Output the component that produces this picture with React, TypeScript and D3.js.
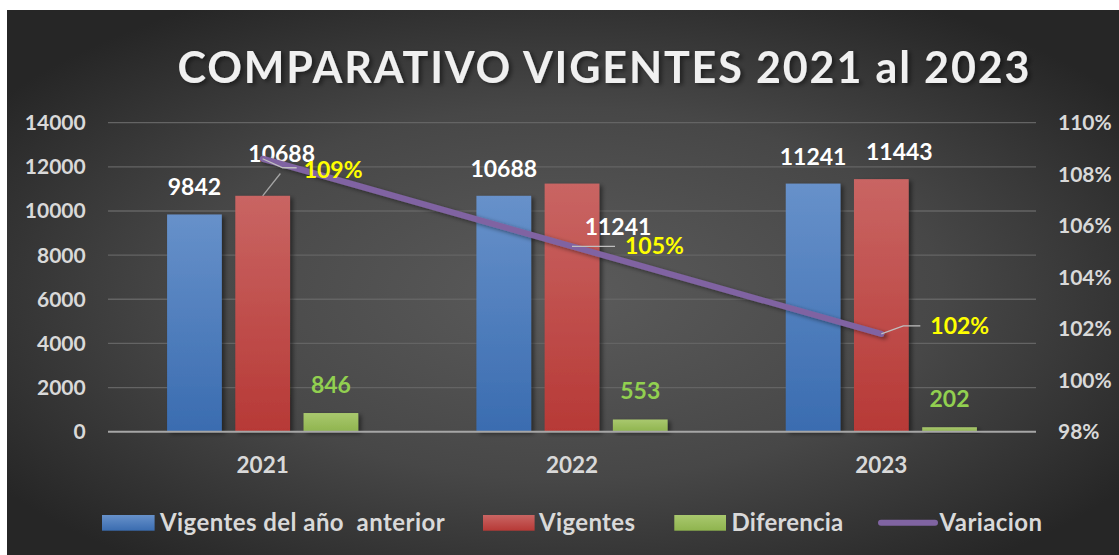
import * as d3 from 'd3';

const years = ['2021', '2022', '2023'];
const anterior = [9842, 10688, 11241];
const vigentes = [10688, 11241, 11443];
const diferencia = [846, 553, 202];
const variacion = [1.086, 1.052, 1.018];
const variacionLabels = ['109%', '105%', '102%'];
const leftTicks = [0, 2000, 4000, 6000, 8000, 10000, 12000, 14000];
const rightTicks = [0.98, 1.0, 1.02, 1.04, 1.06, 1.08, 1.1];
const seriesNames = ['Vigentes del año  anterior', 'Vigentes', 'Diferencia', 'Variacion'];

const W = 1119;
const H = 555;
const FONT = 'Lato, "Open Sans", sans-serif';

export default function App() {
	const x = d3.scaleBand<string>().domain(years).range([108, 1036]).padding(0);
	const groupW = x.bandwidth() * 0.618;
	const xs = d3
		.scaleBand<string>()
		.domain(['anterior', 'vigentes', 'diferencia'])
		.range([0, groupW])
		.paddingInner(0.198);
	const y = d3.scaleLinear().domain([0, 14000]).range([431.7, 122.7]);
	const yR = d3.scaleLinear().domain([0.98, 1.1]).range([431.7, 122.7]);

	const cx = (yr: string) => x(yr)! + x.bandwidth() / 2;
	const barX = (yr: string, key: string) => cx(yr) - groupW / 2 + xs(key)!;

	const series = [
		{ key: 'anterior', values: anterior, fill: 'url(#gBlue)' },
		{ key: 'vigentes', values: vigentes, fill: 'url(#gRed)' },
		{ key: 'diferencia', values: diferencia, fill: 'url(#gGreen)' },
	];

	// manual label tweaks (Excel labels dragged by hand)
	const vigOffsets = [
		{ dx: 19, dy: -34, leader: true },
		{ dx: 46, dy: 51.4, leader: false },
		{ dx: 18, dy: -19, leader: false },
	];
	const varOffsets = [
		{ dx: 41, dy: 19, leader: [[0, 0], [20, 9], [34, 9]] },
		{ dx: 53, dy: 8, leader: [[0, 0], [43, 0]] },
		{ dx: 49, dy: 0, leader: [[0, 0], [22, -8], [39, -8]] },
	];

	const line = d3
		.line<number>()
		.x((_, i) => cx(years[i]))
		.y((d) => yR(d));

	const bw = xs.bandwidth();

	return (
		<svg width={W} height={H} style={{ position: 'absolute', left: 0, top: 0 }} fontFamily={FONT}>
			<defs>
				<radialGradient id="bg" cx="50%" cy="52%" r="62%">
					<stop offset="0%" stopColor="#5b5b5b" />
					<stop offset="55%" stopColor="#474747" />
					<stop offset="100%" stopColor="#262626" />
				</radialGradient>
				<linearGradient id="gBlue" x1="0" y1="0" x2="0" y2="1">
					<stop offset="0%" stopColor="#6791ca" />
					<stop offset="100%" stopColor="#3a6cb0" />
				</linearGradient>
				<linearGradient id="gRed" x1="0" y1="0" x2="0" y2="1">
					<stop offset="0%" stopColor="#c96563" />
					<stop offset="100%" stopColor="#b73936" />
				</linearGradient>
				<linearGradient id="gGreen" x1="0" y1="0" x2="0" y2="1">
					<stop offset="0%" stopColor="#a9c86e" />
					<stop offset="100%" stopColor="#8fb44e" />
				</linearGradient>
				<filter id="shadow" x="-20%" y="-20%" width="150%" height="150%">
					<feDropShadow dx="3" dy="2" stdDeviation="2" floodColor="#000" floodOpacity="0.45" />
				</filter>
			</defs>

			<rect x={7} y={10} width={W - 7} height={H - 10} fill="url(#bg)" />

			{/* Title */}
			<text
				x={177.5}
				y={82.7}
				fontSize={43}
				fontWeight={700}
				fill="#f0f0f0"
				textLength={852}
				lengthAdjust="spacing"
				filter="url(#shadow)"
			>
				COMPARATIVO VIGENTES 2021 al 2023
			</text>

			{/* Gridlines */}
			{leftTicks.slice(1).map((t) => (
				<line key={t} x1={108} x2={1036} y1={y(t)} y2={y(t)} stroke="#646464" strokeWidth={1.3} />
			))}

			{/* Left axis */}
			{leftTicks.map((t) => (
				<text key={t} x={85.7} y={y(t) + 7.5} textAnchor="end" fontSize={21} fontWeight={700} fill="#d9d9d9">
					{t}
				</text>
			))}

			{/* Right axis */}
			{rightTicks.map((t) => (
				<text key={t} x={1058} y={yR(t) + 7.5} fontSize={21} fontWeight={700} fill="#d9d9d9">
					{d3.format('.0%')(t)}
				</text>
			))}

			{/* Bars */}
			{series.map((s) =>
				years.map((yr, i) => (
					<rect
						key={s.key + yr}
						x={barX(yr, s.key)}
						y={y(s.values[i])}
						width={bw}
						height={y(0) - y(s.values[i])}
						fill={s.fill}
						filter="url(#shadow)"
					/>
				))
			)}

			{/* Baseline */}
			<line x1={108} x2={1036} y1={y(0)} y2={y(0)} stroke="#a6a6a6" strokeWidth={2} />

			{/* X labels */}
			{years.map((yr) => (
				<text key={yr} x={cx(yr)} y={473.3} textAnchor="middle" fontSize={22.5} fontWeight={700} fill="#d9d9d9">
					{yr}
				</text>
			))}

			{/* Bar labels */}
			{years.map((yr, i) => {
				const bx = barX(yr, 'anterior') + bw / 2;
				return (
					<text key={'la' + yr} x={bx} y={y(anterior[i]) - 19} textAnchor="middle" fontSize={23} fontWeight={700} fill="#ffffff">
						{anterior[i]}
					</text>
				);
			})}
			{years.map((yr, i) => {
				const bx = barX(yr, 'vigentes') + bw / 2;
				const top = y(vigentes[i]);
				const o = vigOffsets[i];
				return (
					<g key={'lv' + yr}>
						{o.leader && (
							<line x1={bx} y1={top} x2={bx + 17.7} y2={top - 22.3} stroke="#a6a6a6" strokeWidth={1.3} />
						)}
						<text x={bx + o.dx} y={top + o.dy} textAnchor="middle" fontSize={23} fontWeight={700} fill="#ffffff">
							{vigentes[i]}
						</text>
					</g>
				);
			})}
			{years.map((yr, i) => {
				const bx = barX(yr, 'diferencia') + bw / 2;
				return (
					<text key={'ld' + yr} x={bx} y={y(diferencia[i]) - 20} textAnchor="middle" fontSize={23} fontWeight={700} fill="#92d050">
						{diferencia[i]}
					</text>
				);
			})}

			{/* Variation line */}
			<path
				d={line(variacion)!}
				fill="none"
				stroke="#8064a2"
				strokeWidth={6}
				strokeLinecap="round"
				filter="url(#shadow)"
			/>

			{/* Variation labels */}
			{years.map((yr, i) => {
				const px = cx(yr);
				const py = yR(variacion[i]);
				const o = varOffsets[i];
				return (
					<g key={'lvar' + yr}>
						<polyline
							points={o.leader.map(([a, b]) => `${px + a},${py + b}`).join(' ')}
							fill="none"
							stroke="#bfbfbf"
							strokeWidth={1.3}
						/>
						<text x={px + o.dx} y={py + o.dy} fontSize={23} fontWeight={700} fill="#ffff00">
							{variacionLabels[i]}
						</text>
					</g>
				);
			})}

			{/* Legend */}
			<g fontSize={24} fontWeight={700} fill="#d9d9d9">
				<rect x={102} y={515} width={52.6} height={15.7} fill="url(#gBlue)" />
				<text x={160} y={530.7} textLength={284.6} lengthAdjust="spacing" style={{ whiteSpace: 'pre' }}>
					{seriesNames[0]}
				</text>
				<rect x={483} y={515} width={51.6} height={15.7} fill="url(#gRed)" />
				<text x={539} y={530.7} textLength={96} lengthAdjust="spacing">
					{seriesNames[1]}
				</text>
				<rect x={674.3} y={515} width={51.7} height={15.7} fill="url(#gGreen)" />
				<text x={731.4} y={530.7} textLength={111.8} lengthAdjust="spacing">
					{seriesNames[2]}
				</text>
				<line x1={881} x2={935} y1={522.7} y2={522.7} stroke="#8064a2" strokeWidth={6} strokeLinecap="round" />
				<text x={939.6} y={530.7} textLength={102.4} lengthAdjust="spacing">
					{seriesNames[3]}
				</text>
			</g>
		</svg>
	);
}
